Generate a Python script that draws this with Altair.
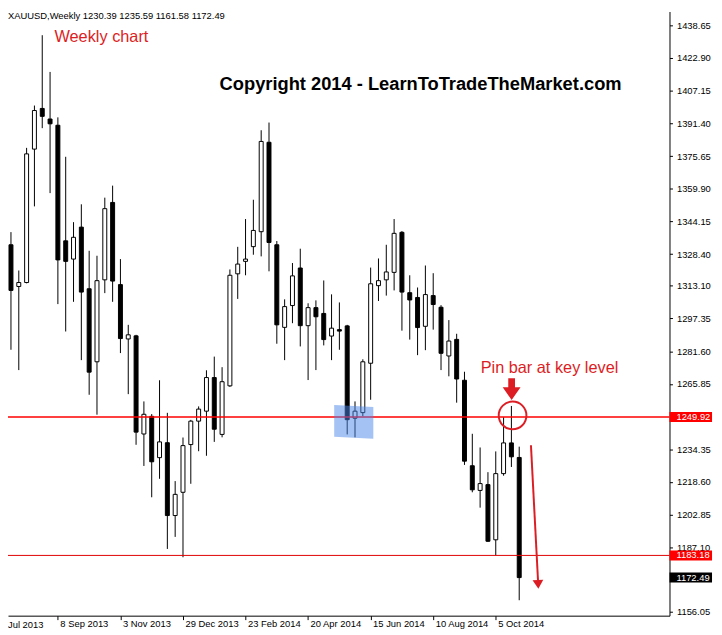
import altair as alt
import pandas as pd

# ---------------- data ----------------
week_index = list(range(66))  # weekly candles, first = week of 28 Jul 2013
opens = [1332.9, 1312.8, 1314.7, 1379.0, 1398.6, 1393.5, 1390.5, 1334.8, 1326.0, 1341.4,
         1311.7, 1276.5, 1316.0, 1353.3, 1313.7, 1287.5, 1289.0, 1241.7, 1250.2, 1230.3,
         1237.5, 1202.4, 1213.6, 1236.6, 1247.9, 1252.7, 1268.9, 1241.5, 1264.9, 1318.9,
         1324.9, 1332.0, 1339.2, 1382.3, 1332.9, 1293.1, 1303.6, 1321.7, 1293.9, 1302.6,
         1299.8, 1288.9, 1292.0, 1293.8, 1249.3, 1252.0, 1275.8, 1313.2, 1316.0, 1319.6,
         1338.9, 1309.8, 1307.5, 1293.6, 1308.4, 1302.8, 1279.3, 1287.3, 1267.6, 1226.4,
         1214.5, 1217.3, 1190.7, 1222.6, 1237.4, 1230.39]
highs = [1339.0, 1320.5, 1379.6, 1400.0, 1433.9, 1416.2, 1394.3, 1375.3, 1343.8, 1352.4,
         1330.0, 1327.6, 1355.6, 1361.4, 1326.0, 1294.3, 1289.5, 1257.4, 1251.3, 1267.6,
         1251.9, 1219.0, 1240.0, 1248.5, 1255.0, 1272.4, 1279.0, 1273.9, 1321.0, 1331.9,
         1345.3, 1354.6, 1388.1, 1391.8, 1334.7, 1306.6, 1324.1, 1331.0, 1304.7, 1306.1,
         1315.7, 1309.0, 1305.1, 1294.3, 1257.4, 1277.7, 1321.9, 1326.3, 1332.9, 1345.3,
         1339.5, 1318.2, 1312.3, 1322.9, 1319.2, 1303.8, 1296.6, 1290.0, 1271.7, 1241.8,
         1235.2, 1223.3, 1233.3, 1249.8, 1255.2, 1235.59]
lows = [1282.3, 1272.5, 1314.3, 1351.4, 1389.1, 1357.8, 1304.3, 1291.1, 1305.4, 1277.3,
        1260.6, 1251.0, 1309.6, 1305.4, 1280.7, 1260.9, 1236.5, 1226.3, 1211.2, 1220.1,
        1186.3, 1192.1, 1182.3, 1217.7, 1233.4, 1231.2, 1237.9, 1240.1, 1264.4, 1306.8,
        1318.2, 1328.1, 1327.3, 1320.1, 1285.2, 1277.3, 1295.1, 1283.9, 1267.7, 1272.5,
        1284.4, 1277.3, 1282.3, 1241.5, 1240.1, 1250.3, 1258.2, 1305.8, 1308.4, 1310.9,
        1291.5, 1287.2, 1279.7, 1282.1, 1292.0, 1272.5, 1269.5, 1256.8, 1226.8, 1213.6,
        1206.2, 1189.7, 1183.2, 1221.6, 1225.8, 1161.58]
closes = [1310.9, 1314.7, 1376.7, 1397.6, 1394.8, 1391.2, 1325.6, 1324.9, 1336.5, 1310.1,
          1271.5, 1315.6, 1350.3, 1315.4, 1287.7, 1289.5, 1242.6, 1251.2, 1228.3, 1237.9,
          1202.4, 1212.6, 1236.1, 1247.9, 1253.7, 1268.9, 1244.0, 1266.9, 1318.2, 1323.6,
          1326.0, 1339.8, 1382.7, 1334.0, 1294.3, 1303.1, 1317.9, 1293.9, 1302.6, 1298.2,
          1287.2, 1292.7, 1291.3, 1248.6, 1252.7, 1276.5, 1314.1, 1315.6, 1319.8, 1338.4,
          1310.1, 1306.3, 1293.0, 1308.9, 1304.1, 1280.6, 1286.5, 1268.2, 1228.6, 1214.8,
          1217.8, 1190.0, 1222.6, 1237.4, 1230.7, 1172.49]

tick_weeks = [6, 14, 22, 30, 38, 46, 54, 62]
tick_labels = ["8 Sep 2013", "3 Nov 2013", "29 Dec 2013", "23 Feb 2014",
               "20 Apr 2014", "15 Jun 2014", "10 Aug 2014", "5 Oct 2014"]
cut_label = "Jul 2013"
price_ticks = [1438.65, 1422.90, 1407.15, 1391.40, 1375.65, 1359.90, 1344.15, 1328.40,
               1313.10, 1297.35, 1281.60, 1265.85, 1234.35, 1218.60, 1202.85, 1187.10,
               1156.05]
level_prices = [1249.92, 1183.18]
level_colors = ["#ff0000", "#e00000"]
level_widths = [1.5, 1.0]
box_prices = [1249.92, 1183.18, 1172.49]
box_labels = ["1249.92", "1183.18", "1172.49"]
box_colors = ["#ff0000", "#ff0000", "#000000"]
header_text = "XAUUSD,Weekly  1230.39 1235.59 1161.58 1172.49"

# annotation anchors (candle index, price)
zone_weeks = [41.34, 46.34]
zone_top = [1255.65, 1254.7]
zone_bottom = [1240.4, 1239.45]
circle_week, circle_price = 64.15, 1250.65
pin_arrow_week, pin_arrow_price = 64.03, 1263.3
drop_start = (66.5, 1236.25)
drop_end = (67.4, 1171.3)
drop_head = (67.42, 1169.3)

RED = "#dc1e24"
FONT = "Liberation Sans"
W, H = 669, 611

candles = pd.DataFrame({"k": week_index, "o": opens, "h": highs, "l": lows, "c": closes})
candles["top"] = candles[["o", "c"]].max(axis=1)
candles["bot"] = candles[["o", "c"]].min(axis=1)
candles["dir"] = ["up" if c >= o else "down" for o, c in zip(opens, closes)]

xscale = alt.Scale(domain=[-0.3794, 84.22], nice=False, zero=False, padding=0)
yscale = alt.Scale(domain=[1154.14, 1445.32], nice=False, zero=False, padding=0)

label_expr = "".join(f"datum.value == {k} ? '{t}' : " for k, t in zip(tick_weeks, tick_labels)) + "''"

x_axis = alt.Axis(values=tick_weeks, labelExpr=label_expr, title=None, grid=False,
                  tickSize=4, tickColor="black", domainColor="black", labelColor="black",
                  labelFont=FONT, labelFontSize=9.5, labelAlign="left", labelBaseline="top",
                  labelPadding=-1, labelOffset=2, labelFlush=False, labelOverlap=False,
                  labelBound=False)
y_axis = alt.Axis(orient="right", values=price_ticks, format=".2f", title=None, grid=False,
                  tickSize=3, tickColor="black", domainColor="black", labelColor="black",
                  labelFont=FONT, labelFontSize=9.5, labelPadding=4, labelFlush=False,
                  labelOverlap=False, labelBound=False)


def X(field):
    return alt.X(field, scale=xscale, axis=x_axis)


def Y(field):
    return alt.Y(field, scale=yscale, axis=y_axis)


wicks = alt.Chart(candles).mark_rule(color="black", strokeWidth=1).encode(
    x=X("k:Q"), y=Y("l:Q"), y2="h:Q",
)

bodies = alt.Chart(candles).mark_bar(size=4, stroke="black", strokeWidth=1, orient="vertical").encode(
    x=X("k:Q"), y=Y("top:Q"), y2="bot:Q",
    fill=alt.Fill("dir:N", scale=alt.Scale(domain=["up", "down"], range=["white", "black"]), legend=None),
)

levels = pd.DataFrame({"p": level_prices, "col": level_colors, "w": level_widths})
level_rules = alt.Chart(levels).mark_rule().encode(
    y=Y("p:Q"),
    color=alt.Color("col:N", scale=None),
    strokeWidth=alt.StrokeWidth("w:Q", scale=None),
)

zone = pd.DataFrame({"k": zone_weeks, "t": zone_top, "b": zone_bottom})
zone_area = alt.Chart(zone).mark_area(color="#4a86e8", opacity=0.5, interpolate="linear").encode(
    x=X("k:Q"), y=Y("t:Q"), y2="b:Q"
)

box_path = "M-1,-0.235 L1,-0.235 L1,0.235 L-1,0.235 Z"
boxes = pd.DataFrame({"p": box_prices, "label": box_labels, "col": box_colors})
box_marks = alt.Chart(boxes).mark_point(shape=box_path, size=1849, filled=True, opacity=1, strokeWidth=0).encode(
    x=alt.value(690.5), y=Y("p:Q"), color=alt.Color("col:N", scale=None)
)
box_text = alt.Chart(boxes).mark_text(align="left", baseline="middle", font=FONT, fontSize=9.5, color="white").encode(
    x=alt.value(676), y=Y("p:Q"), text="label:N"
)

circle = alt.Chart(pd.DataFrame({"k": [circle_week], "p": [circle_price]})).mark_point(
    shape="circle", size=784, filled=False, stroke=RED, strokeWidth=2, opacity=1
).encode(x=X("k:Q"), y=Y("p:Q"))

arrow_path = "M-0.31,-1 L0.31,-1 L0.31,-0.18 L0.82,-0.18 L0,1 L-0.82,-0.18 L-0.31,-0.18 Z"
pin_arrow = alt.Chart(pd.DataFrame({"k": [pin_arrow_week], "p": [pin_arrow_price]})).mark_point(
    shape=arrow_path, size=484, filled=True, color=RED, opacity=1, strokeWidth=0
).encode(x=X("k:Q"), y=Y("p:Q"))

drop = pd.DataFrame({"k": [drop_start[0]], "p": [drop_start[1]], "k2": [drop_end[0]], "p2": [drop_end[1]]})
drop_line = alt.Chart(drop).mark_rule(color=RED, strokeWidth=2).encode(
    x=X("k:Q"), y=Y("p:Q"), x2="k2:Q", y2="p2:Q"
)
head_path = "M-1,-0.8 L1,-0.8 L0,0.85 Z"
drop_head_mark = alt.Chart(pd.DataFrame({"k": [drop_head[0]], "p": [drop_head[1]]})).mark_point(
    shape=head_path, size=117, filled=True, color=RED, opacity=1, strokeWidth=0, angle=357
).encode(x=X("k:Q"), y=Y("p:Q"))


def label(text, x, y, size, color, weight="normal", baseline="alphabetic"):
    return alt.Chart(pd.DataFrame({"t": [text]})).mark_text(
        align="left", baseline=baseline, font=FONT, fontSize=size, color=color, fontWeight=weight
    ).encode(x=alt.value(x), y=alt.value(y), text="t:N")


header = label(header_text, 0, 7.5, 9.5, "black")
weekly = label("Weekly chart", 47, 31, 16.5, RED)
copyright_ = label("Copyright 2014 - LearnToTradeTheMarket.com", 214, 79, 18.5, "black", "bold")
pin_text = label("Pin bar at key level", 478, 366, 16.5, RED)
jul = label(cut_label, 0, 615, 9.5, "black", baseline="top")

chart = alt.layer(
    wicks, bodies, level_rules, zone_area, box_marks, box_text,
    circle, pin_arrow, drop_line, drop_head_mark,
    header, weekly, copyright_, pin_text, jul,
).properties(
    width=W, height=H,
    autosize=alt.AutoSizeParams(type="none"),
    padding={"left": 0, "top": 0, "right": 45, "bottom": 16},
    background="white",
).configure_view(stroke=None).configure_axis(labelOverlap=False)

chart.save("out.html", embed_options={"renderer": "svg", "actions": False})
